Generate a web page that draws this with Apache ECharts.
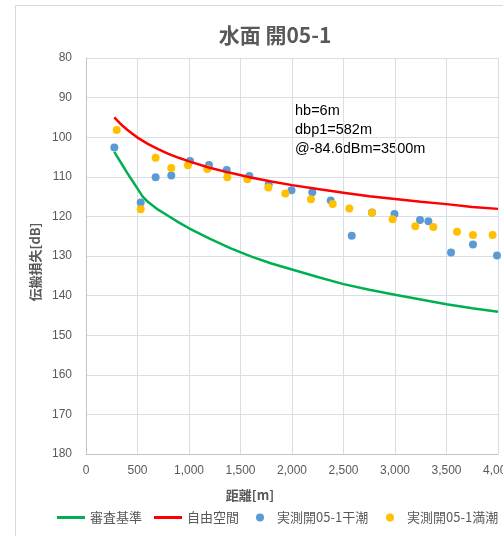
<!DOCTYPE html>
<html>
<head>
<meta charset="utf-8">
<script src="https://cdn.jsdelivr.net/npm/echarts@6/dist/echarts.min.js"></script>
<style>
  html, body { margin: 0; padding: 0; background: #fff; }
  #chart { width: 503px; height: 536px; }
</style>
</head>
<body>
<div id="chart"></div>
<script>
// Title, axis names and notes
const chartTitle = '水面 開05-1';
const xAxisName = '距離[m]';
const yAxisName = '伝搬損失[dB]';
const notes = ['hb=6m', 'dbp1=582m', '@-84.6dBm=3500m'];

// Tick values
const xTicks = [0, 500, 1000, 1500, 2000, 2500, 3000, 3500, 4000];
const yTicks = [80, 90, 100, 110, 120, 130, 140, 150, 160, 170, 180];

// Series names
const seriesNames = ['審査基準', '自由空間', '実測開05-1干潮', '実測開05-1満潮'];

// 審査基準 curve: [distance m, loss dB]
const criterionCurve = [
  [275, 103.7], [300, 104.8], [350, 106.9], [400, 109.0], [450, 111.0],
  [500, 113.0], [550, 115.0], [600, 116.3], [700, 118.3], [800, 119.9],
  [900, 121.5], [1000, 123.0], [1200, 125.6], [1400, 128.0], [1600, 130.1],
  [1800, 131.9], [2000, 133.4], [2250, 135.3], [2500, 137.1], [2750, 138.5],
  [3000, 139.8], [3250, 141.0], [3500, 142.2], [3750, 143.2], [4000, 144.1]
];

// 自由空間 curve
const freeSpaceCurve = [
  [275, 95.0], [300, 95.7], [350, 97.0], [400, 98.1], [450, 99.1],
  [500, 100.1], [600, 101.7], [700, 103.0], [800, 104.2], [900, 105.2],
  [1000, 106.1], [1200, 107.7], [1400, 109.0], [1600, 110.2], [1800, 111.2],
  [2000, 112.1], [2250, 113.1], [2500, 114.0], [2750, 114.9], [3000, 115.6],
  [3250, 116.3], [3500, 116.9], [3750, 117.6], [4000, 118.1]
];

// Measured, low tide
const lowTide = [
  [275, 102.6], [531, 116.5], [676, 110.1], [828, 109.7], [1010, 106.0],
  [1194, 107.0], [1366, 108.3], [1586, 109.8], [1774, 111.9], [1995, 113.4],
  [2197, 113.9], [2376, 116.0], [2580, 124.9], [2777, 119.0], [2995, 119.4],
  [3243, 120.9], [3324, 121.2], [3544, 129.1], [3757, 127.1], [3990, 129.9]
];

// Measured, high tide
const highTide = [
  [298, 98.2], [531, 118.2], [676, 105.2], [828, 107.8], [990, 107.1],
  [1178, 108.0], [1372, 110.1], [1566, 110.6], [1770, 112.7], [1935, 114.2],
  [2184, 115.7], [2395, 116.9], [2557, 118.0], [2777, 119.1], [2977, 120.7],
  [3197, 122.5], [3372, 122.7], [3602, 123.9], [3757, 124.7], [3948, 124.7]
];

const colors = ['#00B050', '#FF0000', '#5B9BD5', '#FFC000'];
const latin = "'Liberation Sans', 'Noto Sans CJK JP', sans-serif";
const cjk = "'Noto Sans CJK JP', 'Liberation Sans', sans-serif";
const textGray = '#595959';
const gridGray = '#D9DEE6';

const legendText = { color: textGray, fontSize: 13, fontFamily: cjk };

const chart = echarts.init(document.getElementById('chart'), null, { renderer: 'canvas' });

const option = {
  animation: false,
  backgroundColor: '#fff',
  grid: {
    left: 86, top: 58, right: 5, bottom: 82,
    containLabel: false, outerBoundsMode: 'none'
  },
  xAxis: {
    type: 'value',
    min: xTicks[0],
    max: xTicks[xTicks.length - 1],
    interval: xTicks[1] - xTicks[0],
    axisLine: { show: true, lineStyle: { color: '#BFC5CE', width: 1 } },
    axisTick: { show: false },
    splitLine: { show: true, lineStyle: { color: gridGray, width: 1 } },
    axisLabel: {
      color: textGray, fontSize: 12, fontFamily: latin, margin: 11,
      showMaxLabel: true, hideOverlap: false,
      formatter: v => v.toLocaleString('en-US')
    }
  },
  yAxis: {
    type: 'value',
    inverse: true,
    min: yTicks[0],
    max: yTicks[yTicks.length - 1],
    interval: yTicks[1] - yTicks[0],
    axisLine: { show: true, lineStyle: { color: '#BFC5CE', width: 1 } },
    axisTick: { show: false },
    splitLine: { show: true, lineStyle: { color: gridGray, width: 1 } },
    axisLabel: { color: textGray, fontSize: 12, fontFamily: latin, margin: 14 }
  },
  legend: [
    {
      left: 57, top: 511, padding: 0,
      itemWidth: 28, itemHeight: 3, itemGap: 12,
      symbolKeepAspect: false,
      textStyle: legendText,
      data: [
        { name: seriesNames[0], icon: 'rect', itemStyle: { color: colors[0], borderWidth: 0 } },
        { name: seriesNames[1], icon: 'rect', itemStyle: { color: colors[1], borderWidth: 0 } }
      ]
    },
    {
      left: 256, top: 511, padding: 0,
      itemWidth: 8, itemHeight: 8,
      textStyle: Object.assign({ padding: [0, 0, 0, 8] }, legendText),
      data: [{ name: seriesNames[2], icon: 'circle' }]
    },
    {
      left: 386, top: 511, padding: 0,
      itemWidth: 8, itemHeight: 8,
      textStyle: Object.assign({ padding: [0, 0, 0, 8] }, legendText),
      data: [{ name: seriesNames[3], icon: 'circle' }]
    }
  ],
  graphic: [
    {
      type: 'rect', silent: true, z: -1,
      shape: { x: 15.5, y: 5.5, width: 700, height: 700 },
      style: { fill: 'none', stroke: '#D9D9D9', lineWidth: 1 }
    },
    {
      type: 'text', x: 275, y: 35,
      style: {
        text: chartTitle, fill: textGray, font: "bold 21px " + cjk,
        textAlign: 'center', textVerticalAlign: 'middle'
      }
    },
    {
      type: 'text', x: 250, y: 495,
      style: {
        text: xAxisName, fill: textGray, font: "bold 13px " + cjk,
        textAlign: 'center', textVerticalAlign: 'middle'
      }
    },
    {
      type: 'text', x: 35, y: 262, rotation: Math.PI / 2,
      style: {
        text: yAxisName, fill: textGray, font: "bold 13px " + cjk,
        textAlign: 'center', textVerticalAlign: 'middle'
      }
    },
    {
      type: 'text', x: 295, y: 101,
      style: {
        text: notes.join('\n'), fill: '#000', font: "14.5px " + latin,
        lineHeight: 19, textAlign: 'left', textVerticalAlign: 'top'
      }
    }
  ],
  series: [
    {
      name: seriesNames[0], type: 'line', data: criterionCurve,
      showSymbol: false, symbol: 'none', smooth: false,
      lineStyle: { color: colors[0], width: 2.5 }, itemStyle: { color: colors[0] }
    },
    {
      name: seriesNames[1], type: 'line', data: freeSpaceCurve,
      showSymbol: false, symbol: 'none', smooth: false,
      lineStyle: { color: colors[1], width: 2.5 }, itemStyle: { color: colors[1] }
    },
    {
      name: seriesNames[2], type: 'scatter', data: lowTide,
      symbol: 'circle', symbolSize: 8, itemStyle: { color: colors[2], opacity: 1 }
    },
    {
      name: seriesNames[3], type: 'scatter', data: highTide,
      symbol: 'circle', symbolSize: 8, itemStyle: { color: colors[3], opacity: 1 }
    }
  ]
};

chart.setOption(option);
</script>
</body>
</html>
